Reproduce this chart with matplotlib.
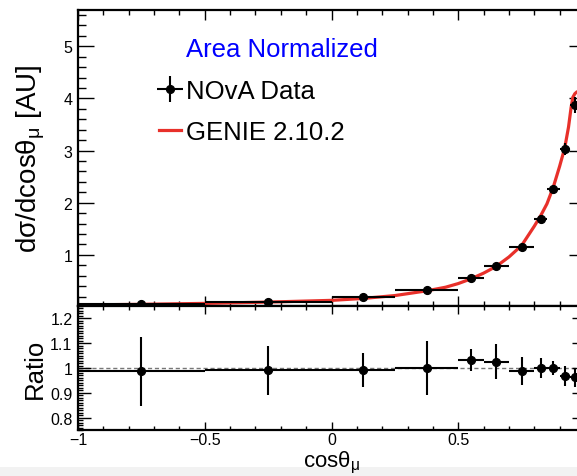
import matplotlib
matplotlib.use("Agg")
import matplotlib.pyplot as plt
from matplotlib.ticker import MultipleLocator, FuncFormatter
from matplotlib.patches import Rectangle
import numpy as np

plt.rcParams['font.family'] = ['Liberation Sans', 'DejaVu Sans']
plt.rcParams['mathtext.fontset'] = 'custom'
plt.rcParams['mathtext.rm'] = 'Liberation Sans'

# Binning in cos(theta_mu)
bin_lo = [-1.0, -0.5, 0.0, 0.25, 0.5, 0.6, 0.7, 0.8, 0.85, 0.9, 0.94]
bin_hi = [-0.5, 0.0, 0.25, 0.5, 0.6, 0.7, 0.8, 0.85, 0.9, 0.94, 0.98]

# Measured shape (area normalized) and uncertainties
xsec = [0.054, 0.098, 0.187, 0.333, 0.56, 0.785, 1.16, 1.69, 2.26, 3.03, 3.87]
xsec_err = [0.008, 0.010, 0.013, 0.035, 0.025, 0.055, 0.065, 0.068, 0.066, 0.12, 0.15]

# Data / GENIE ratio
ratio = [0.986, 0.990, 0.992, 1.000, 1.031, 1.025, 0.988, 1.001, 1.000, 0.968, 0.962]
ratio_err = [0.139, 0.100, 0.067, 0.109, 0.045, 0.070, 0.056, 0.040, 0.029, 0.040, 0.040]

# GENIE 2.10.2 prediction
genie_x = [-1.0, -0.75, -0.5, -0.25, 0.0, 0.125, 0.25, 0.375, 0.45, 0.5, 0.55,
           0.6, 0.65, 0.7, 0.75, 0.8, 0.825, 0.85, 0.875, 0.9, 0.92, 0.935,
           0.945, 0.952, 0.96, 0.967, 0.975, 0.985]
genie_y = [0.040, 0.052, 0.070, 0.095, 0.128, 0.165, 0.22, 0.31, 0.38, 0.45, 0.54,
           0.65, 0.78, 0.96, 1.18, 1.55, 1.75, 1.98, 2.30, 2.70, 3.05, 3.45,
           3.82, 4.02, 4.09, 4.12, 4.14, 4.14]

lo = np.array(bin_lo)
hi = np.array(bin_hi)
centers = 0.5 * (lo + hi)
half = 0.5 * (hi - lo)

W, H = 577, 477
fig = plt.figure(figsize=(W / 100, H / 100), dpi=100)
fig.patch.set_facecolor('white')
fig.add_artist(Rectangle((0, 0), 1, 9 / H, transform=fig.transFigure,
                         facecolor='#f2f2f2', edgecolor='none', zorder=-10))

x_left, x_right = 78, 585
main_top, main_bot, ratio_bot = 10.7, 307, 431


def frac_box(top, bot):
    return [x_left / W, 1 - bot / H, (x_right - x_left) / W, (bot - top) / H]


ax = fig.add_axes(frac_box(main_top, main_bot))
axr = fig.add_axes(frac_box(main_bot, ratio_bot), sharex=ax)


def label_fmt(v, p):
    return f"{v:g}".replace('-', '\u2212')


def xlabel_fmt(v, p):
    # the x = 1 label sits outside the visible canvas
    return '' if v > 0.99 else label_fmt(v, p)


red = '#e8302a'

# Upper panel
ax.plot(genie_x, genie_y, color=red, lw=2.3, zorder=2, solid_capstyle='butt')
eb = ax.errorbar(centers, xsec, xerr=half, yerr=xsec_err, fmt='o', color='black',
                 ms=5.6, elinewidth=1.5, capsize=0, zorder=3)
ln, = ax.plot([], [], color=red, lw=2.3)

ax.set_xlim(-1, 1)
ax.set_ylim(0.02, 5.7)
ax.xaxis.set_major_locator(MultipleLocator(0.5))
ax.xaxis.set_minor_locator(MultipleLocator(0.1))
ax.yaxis.set_major_locator(MultipleLocator(1))
ax.yaxis.set_minor_locator(MultipleLocator(0.2))
ax.yaxis.set_major_formatter(FuncFormatter(label_fmt))
ax.tick_params(axis='both', which='both', direction='in', top=True, right=True,
               width=1.0, labelsize=11.5, colors='black')
ax.tick_params(axis='x', which='major', length=7.5, labelbottom=False)
ax.tick_params(axis='x', which='minor', length=3.8)
ax.tick_params(axis='y', which='major', length=11.5, pad=4)
ax.tick_params(axis='y', which='minor', length=5.8)
ax.set_ylabel('dσ/dcosθ$_\\mathregular{μ}$ [AU]', fontsize=20)
ax.yaxis.set_label_coords(-0.062, 0.5)

ax.text(0.213, 0.866, 'Area Normalized', color='blue', fontsize=18.5,
        transform=ax.transAxes, ha='left', va='center')
ax.legend([eb, ln], ['NOvA Data', 'GENIE 2.10.2'], loc='upper left',
          bbox_to_anchor=(0.16, 0.765), frameon=False, fontsize=18.5,
          handlelength=0.84, handletextpad=0.22, labelspacing=0.65,
          borderpad=0, borderaxespad=0)

# Lower panel
axr.axhline(1.0, color='#777777', lw=1.0, ls=(0, (3, 2)), zorder=1)
axr.errorbar(centers, ratio, xerr=half, yerr=ratio_err, fmt='o', color='black',
             ms=5.6, elinewidth=1.5, capsize=0, zorder=3)
axr.set_ylim(0.75, 1.25)
axr.yaxis.set_major_locator(MultipleLocator(0.1))
axr.yaxis.set_minor_locator(MultipleLocator(0.01))
axr.xaxis.set_major_formatter(FuncFormatter(xlabel_fmt))
axr.yaxis.set_major_formatter(FuncFormatter(label_fmt))
axr.tick_params(axis='both', which='both', direction='in', top=True, right=True,
                width=1.0, labelsize=11.5, colors='black')
axr.tick_params(axis='x', which='major', length=5.5, pad=1.2)
axr.tick_params(axis='x', which='minor', length=3.0)
axr.tick_params(axis='y', which='major', length=9.4, pad=4)
axr.tick_params(axis='y', which='minor', length=3.6)
axr.set_ylabel('Ratio', fontsize=18.5)
axr.yaxis.set_label_coords(-0.062, 0.5)
axr.set_xlabel('cosθ$_\\mathregular{μ}$', fontsize=16)
axr.xaxis.set_label_coords(0.5, (ratio_bot - 476.5) / (ratio_bot - main_bot))
axr.xaxis.label.set_verticalalignment('bottom')

for a in (ax, axr):
    for s in a.spines.values():
        s.set_linewidth(1.6)
        s.set_color('black')

fig.savefig('out.png', dpi=100)
